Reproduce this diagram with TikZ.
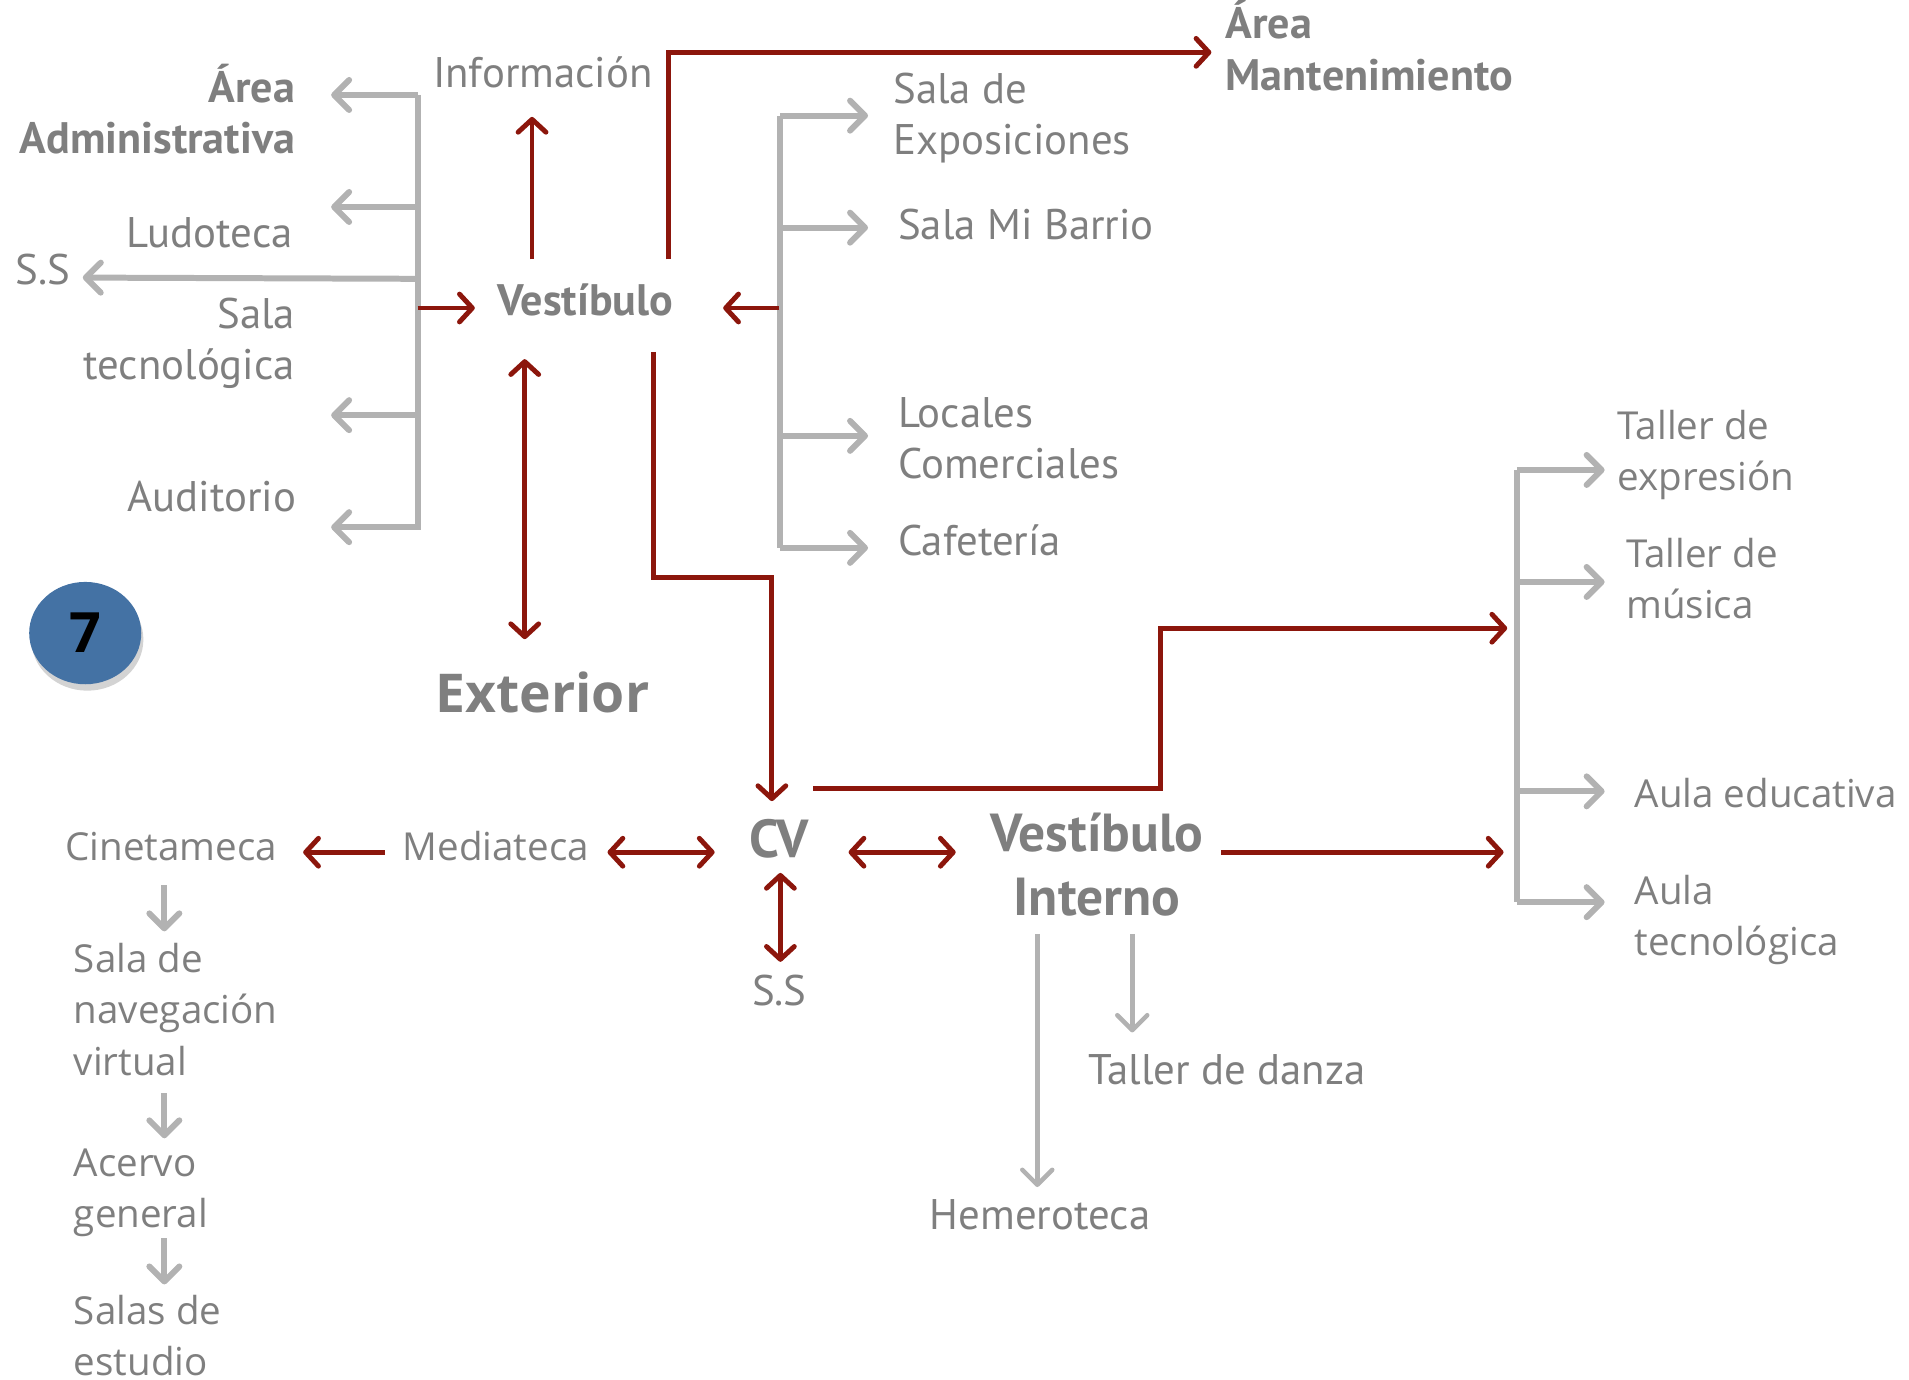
\documentclass[tikz,border=0pt]{standalone}
\usepackage{fontspec}
\setmainfont{PT Sans}
\newfontfamily\widefont{Open Sans}
\usetikzlibrary{arrows.meta,positioning,shapes.geometric,shadows}
\definecolor{txtgray}{RGB}{127,127,127}
\definecolor{linegray}{RGB}{178,178,178}
\definecolor{arrowred}{RGB}{140,22,12}
\definecolor{ballblue}{RGB}{68,114,164}

\begin{document}
\begin{tikzpicture}[
    x=0.01cm, y=-0.01cm,
    font=\fontsize{10}{11.95}\selectfont,
    lbl/.style={text=txtgray, inner sep=0pt},
    lblw/.style={lbl, font=\widefont\fontsize{9}{11.95}\selectfont},
    head/.style={lbl, font=\bfseries\fontsize{10.3}{11.95}\selectfont},
    big/.style={lbl, font=\bfseries\fontsize{12.5}{15}\selectfont},
    redline/.style={line width=1.15pt, draw=arrowred},
    redarrow/.style={redline, -{Straight Barb[length=3pt,width=6.5pt,round]}},
    redboth/.style={redline, {Straight Barb[length=3pt,width=6.5pt,round]}-{Straight Barb[length=3pt,width=6.5pt,round]}},
    grayline/.style={line width=1.4pt, draw=linegray},
    grayarrow/.style={grayline, -{Straight Barb[length=3.5pt,width=7pt,round]}},
    thinarrow/.style={grayarrow, line width=1.05pt}
  ]
  \useasboundingbox (0,0) rectangle (1568,1133);

  % upper hall and its rooms
  \node[head, anchor=base east, align=right] (adm) at (243,126) {Área\\Administrativa};
  \node[lbl, anchor=base west] (info) at (355,72) {Información};
  \node[lbl, anchor=base east] (ludo) at (241,203) {Ludoteca};
  \node[lbl, anchor=base west] (ssup) at (12,234) {S.S};
  \node[lbl, anchor=base east, align=right] (saltec) at (243,312) {Sala\\tecnológica};
  \node[lbl, anchor=base east] (audi) at (244,420) {Auditorio};
  \node[head, anchor=base west] (vest) at (408,259) {Vestíbulo};
  \node[head, anchor=base west, align=left] (mant) at (1006,74) {Área\\Mantenimiento};
  \node[lbl, anchor=base west, align=left] (expo) at (733,127) {Sala de\\Exposiciones};
  \node[lbl, anchor=base west] (barrio) at (737,197) {Sala Mi Barrio};
  \node[lbl, anchor=base west, align=left] (locales) at (737,393) {Locales\\Comerciales};
  \node[lbl, anchor=base west] (cafe) at (737,456) {Cafetería};
  \node[lbl, anchor=base west, font=\widefont\bfseries\fontsize{12.5}{15}\selectfont] (ext) at (357,585) {Exterior};

  \node[ellipse, fill=ballblue, minimum width=0.92cm, minimum height=0.84cm,
    drop shadow={opacity=0.35, shadow xshift=0.5pt, shadow yshift=-1.5pt},
    text=black, font=\widefont\bfseries\fontsize{13}{15}\selectfont] (num) at (70,520) {7};

  % lower hall
  \node[lblw, anchor=base west] (cine) at (53,707) {Cinetameca};
  \node[lblw, anchor=base west] (media) at (330,707) {Mediateca};
  \node[big, anchor=base west] (cv) at (615,704) {CV};
  \node[big, anchor=base, align=center] (vint) at (901,752) {Vestíbulo\\Interno};
  \node[lbl, anchor=base west] (ssdown) at (617,826) {S.S};
  \node[lbl, anchor=base west] (danza) at (893,891) {Taller de danza};
  \node[lbl, anchor=base west] (hemero) at (763,1010) {Hemeroteca};
  \node[lblw, anchor=base west, align=left] (nav) at (60,883) {Sala de\\navegación\\virtual};
  \node[lblw, anchor=base west, align=left] (acervo) at (60,1008) {Acervo\\general};
  \node[lblw, anchor=base west, align=left] (salas) at (60,1130) {Salas de\\estudio};

  \node[lblw, anchor=base west, align=left] (texp) at (1328,403) {Taller de\\expresión};
  \node[lblw, anchor=base west, align=left] (tmus) at (1335,508) {Taller de\\música};
  \node[lblw, anchor=base west] (aedu) at (1342,663) {Aula educativa};
  \node[lblw, anchor=base west, align=left] (atec) at (1342,785) {Aula\\tecnológica};

  % left fan
  \coordinate (lf-top) at (343,78);
  \coordinate (lf-bot) at (343,435);
  \draw[grayline] (lf-top) -- (lf-bot);
  \foreach \y in {78,170,341,433}
    \draw[grayarrow] (343,\y) -- (272,\y);
  \draw[grayarrow] (341,229) -- (68,228);
  \draw[redarrow] (343,253) -- (390,253);

  % right fan
  \draw[grayline] (641,95) -- (641,450);
  \foreach \y in {95,187,358,450}
    \draw[grayarrow] (641,\y) -- (713,\y);
  \draw[redarrow] (640,253) -- (594,253);

  % from the hall
  \draw[redarrow] (437,213) -- (437,96);
  \draw[redarrow] (549,213) -- (549,43) -- (995,43);
  \draw[redboth] (431,295) -- (431,525);
  \draw[redarrow] (537,289) -- (537,474) -- (634,474) -- (634,658);

  % workshops fan
  \draw[grayline] (1246,386) -- (1246,741);
  \foreach \y in {386,478,650,741}
    \draw[grayarrow] (1246,\y) -- (1318,\y);
  \draw[redarrow] (668,648) -- (953,648) -- (953,516) -- (1238,516);
  \draw[redarrow] (1003,700) -- (1235,700);

  % CV row
  \draw[redboth] (697,700) -- (785,700);
  \draw[redboth] (499,700) -- (587,700);
  \draw[redarrow] (316,700) -- (249,700);
  \draw[redboth] (641,717) -- (641,790);

  % downward chains
  \draw[grayarrow] (135,727) -- (135,765);
  \draw[grayarrow] (135,898) -- (135,935);
  \draw[grayarrow] (135,1017) -- (135,1055);
  \draw[thinarrow] (852,767) -- (852,975);
  \draw[thinarrow] (930,767) -- (930,848);
\end{tikzpicture}
\end{document}
